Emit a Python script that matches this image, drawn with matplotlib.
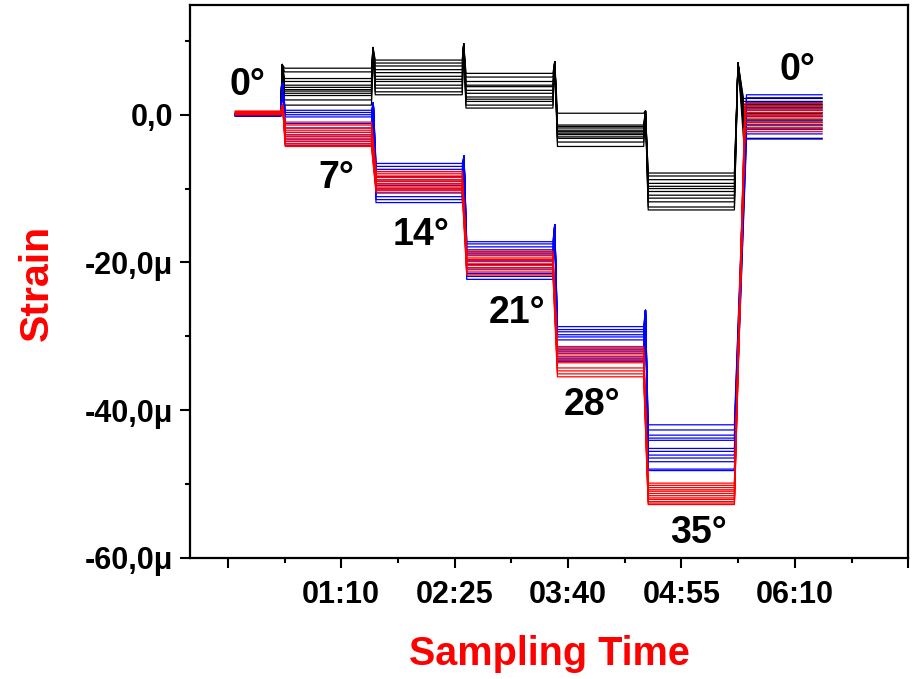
import numpy as np
import matplotlib
matplotlib.use('Agg')
import matplotlib.pyplot as plt
from matplotlib.ticker import FixedLocator, FuncFormatter

plt.rcParams['font.family'] = ['Liberation Sans', 'DejaVu Sans']
plt.rcParams['font.weight'] = 'bold'

# segment boundaries in seconds (0°, 7°, 14°, 21°, 28°, 35°, back to 0°)
seg_edges = [0, 30, 90, 150, 210, 270, 330, 388]

# strain level (in micro-strain) of every trace on every segment
black_levels = [
    [0.1, 6.3, 7.0, 5.6, 0.2, -7.9, 2.2],
    [-0.1, 5.8, 7.4, 5.1, -1.4, -8.3, 1.8],
    [0.0, 4.9, 6.6, 4.5, -1.8, -8.8, 1.4],
    [0.2, 4.5, 6.1, 4.0, -1.6, -9.3, 0.6],
    [-0.2, 4.0, 5.2, 3.8, -2.1, -9.7, 1.0],
    [0.1, 3.7, 5.7, 3.3, -2.5, -10.0, 0.2],
    [0.0, 3.4, 4.8, 2.9, -2.3, -10.4, -0.2],
    [-0.1, 3.2, 4.5, 2.4, -2.7, -10.9, -0.6],
    [0.1, 2.9, 4.0, 2.1, -3.0, -11.3, -1.0],
    [0.0, 2.6, 3.6, 1.8, -3.2, -11.8, -1.4],
    [-0.2, 2.0, 3.1, 1.3, -3.7, -12.5, -1.8],
    [0.1, 1.3, 2.7, 0.9, -4.3, -12.9, -3.2],
]
blue_levels = [
    [0.0, 0.6, -6.6, -17.2, -28.7, -42.0, 2.7],
    [0.2, 0.3, -7.0, -17.5, -29.1, -42.7, 2.3],
    [-0.1, 0.0, -7.4, -17.9, -29.4, -43.4, 1.7],
    [0.1, -0.3, -7.7, -18.3, -29.8, -43.8, 1.2],
    [-0.2, -1.2, -8.4, -18.6, -30.1, -44.1, 0.8],
    [0.0, -1.8, -9.0, -19.0, -30.5, -45.2, 0.3],
    [0.1, -2.4, -9.6, -19.7, -31.6, -45.6, -0.2],
    [-0.1, -2.9, -10.2, -20.3, -32.0, -46.1, -0.8],
    [0.0, -3.3, -10.6, -20.9, -32.3, -46.5, -1.4],
    [0.2, -3.6, -11.1, -21.5, -32.8, -47.0, -2.0],
    [-0.1, -3.9, -11.5, -21.9, -33.1, -48.0, -2.6],
    [0.0, -4.2, -11.9, -22.3, -33.4, -48.2, -3.3],
]
red_levels = [
    [0.3, -1.0, -7.7, -18.5, -31.4, -49.9, 1.5],
    [0.5, -1.4, -8.0, -18.8, -31.8, -50.2, 1.2],
    [0.2, -1.8, -8.3, -19.1, -32.1, -50.5, 0.9],
    [0.4, -2.1, -8.5, -19.4, -32.4, -50.8, 0.6],
    [0.1, -2.4, -8.8, -19.6, -32.7, -51.0, 0.3],
    [0.3, -2.7, -9.0, -19.9, -33.0, -51.3, 0.0],
    [0.0, -3.0, -9.3, -20.2, -33.3, -51.6, -0.3],
    [0.2, -3.3, -9.5, -20.4, -33.6, -51.9, -0.7],
    [0.1, -3.6, -9.8, -20.7, -34.3, -52.1, -1.1],
    [0.4, -3.9, -10.0, -21.0, -34.7, -52.4, -1.5],
    [0.0, -4.1, -10.2, -21.3, -35.1, -52.6, -1.9],
    [0.2, -4.3, -10.5, -21.7, -35.5, -52.8, -2.3],
]

# overshoot peak of each group at each step (None = no overshoot)
black_spikes = [6.8, 9.1, 9.6, 7.2, 0.5, 7.0]
blue_spikes = [4.3, 1.6, -5.6, -14.9, -26.5, None]
red_spikes = [1.3, None, None, None, None, None]

# how long (s) each group takes to settle after a step
black_ramps = [2.5, 2.5, 2.5, 3, 3, 6]
blue_ramps = [3, 3, 3, 3, 3, 8]
red_ramps = [3, 3, 3, 3, 3, 7]

angle_labels = ['0°', '7°', '14°', '21°', '28°', '35°', '0°']
angle_pos = [(7.7, 2.7), (66.5, -9.9), (122.8, -17.6), (186.2, -28.2),
             (235.8, -40.7), (306.0, -58.0), (371.4, 4.7)]

x_major = [-5, 70, 145, 220, 295, 370, 445]
x_minor = [32.5, 107.5, 182.5, 257.5, 332.5, 407.5]


def trace_path(levels, spikes, ramps):
    t = [seg_edges[0]]
    y = [levels[0]]
    for k in range(1, len(levels)):
        T = seg_edges[k]
        t.append(T)
        y.append(levels[k - 1])
        if spikes[k - 1] is not None:
            t.append(T + ramps[k - 1] * 0.4)
            y.append(spikes[k - 1])
        t.append(T + ramps[k - 1])
        y.append(levels[k])
    t.append(seg_edges[-1])
    y.append(levels[-1])
    return t, y


def fmt_time(v, pos):
    if v < 0 or v > 440:
        return ''
    v = int(round(v))
    return f"{v // 60:02d}:{v % 60:02d}"


def fmt_strain(v, pos):
    if abs(v) < 1e-9:
        return '0,0'
    return f"{v:.1f}".replace('.', ',') + 'μ'


fig = plt.figure(figsize=(9.13, 6.79), dpi=100)
W, H = 913, 679
ax = fig.add_axes([190 / W, 1 - 557.7 / H, (908.3 - 190) / W, (557.7 - 4.7) / H])

groups = [(black_levels, black_spikes, black_ramps, 'black'),
          (blue_levels, blue_spikes, blue_ramps, '#0000ff'),
          (red_levels, red_spikes, red_ramps, '#ff0000')]
for levels_list, spikes, ramps, color in groups:
    for levels in levels_list:
        t, y = trace_path(levels, spikes, ramps)
        ax.plot(t, y, color=color, lw=0.9)

for lab, (tx, ty) in zip(angle_labels, angle_pos):
    ax.text(tx, ty, lab, ha='center', va='baseline', fontsize=27, fontweight='bold')

ax.set_xlim(-30, 445)
ax.set_ylim(-60, 14.9)

ax.xaxis.set_major_locator(FixedLocator(x_major))
ax.xaxis.set_minor_locator(FixedLocator(x_minor))
ax.xaxis.set_major_formatter(FuncFormatter(fmt_time))
ax.yaxis.set_major_locator(FixedLocator([-60, -40, -20, 0]))
ax.yaxis.set_minor_locator(FixedLocator([-50, -30, -10, 10]))
ax.yaxis.set_major_formatter(FuncFormatter(fmt_strain))

ax.tick_params(which='major', direction='out', length=7, width=1.5, labelsize=22, pad=5)
ax.tick_params(which='minor', direction='out', length=3.6, width=1.5)
ax.tick_params(axis='x', which='major', pad=9)
for lab in ax.get_xticklabels() + ax.get_yticklabels():
    lab.set_fontweight('bold')
for sp in ax.spines.values():
    sp.set_linewidth(1.6)

fig.text(549 / W, 1 - 665 / H, 'Sampling Time', color='#ff0000', fontsize=28.5,
         fontweight='bold', ha='center', va='baseline')
fig.text(48 / W, 1 - 283 / H, 'Strain', color='#ff0000', fontsize=29.5,
         fontweight='bold', ha='center', va='baseline', rotation=90,
         rotation_mode='anchor')

fig.savefig('out.png', dpi=100)
